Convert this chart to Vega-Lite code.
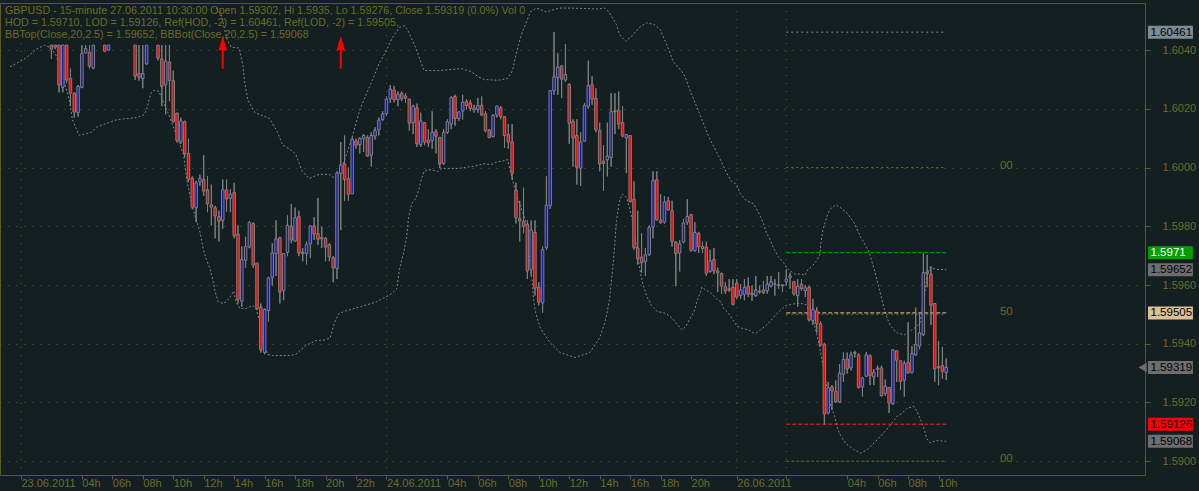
{
  "$schema": "https://vega.github.io/schema/vega-lite/v6.json",
  "autosize": "none",
  "width": 1145,
  "height": 472,
  "padding": {"left": 0, "top": 3, "right": 54, "bottom": 16},
  "background": "#131f20",
  "config": {
    "view": {"stroke": "#5b5a1f", "strokeWidth": 1},
    "font": "Liberation Sans"
  },
  "title": {
    "text": "GBPUSD - 15-minute 27.06.2011 10:30:00 Open 1.59302, Hi 1.5935, Lo 1.59276, Close 1.59319 (0.0%) Vol 0",
    "subtitle": [
      "HOD = 1.59710, LOD = 1.59126, Ref(HOD, -2) = 1.60461, Ref(LOD, -2) = 1.59505,",
      "BBTop(Close,20,2.5) = 1.59652, BBBot(Close,20,2.5) = 1.59068"
    ],
    "anchor": "start",
    "frame": "group",
    "orient": "top",
    "offset": -38,
    "dx": 5,
    "font": "Liberation Sans",
    "fontSize": 10.7,
    "fontWeight": "normal",
    "color": "#6d6b26",
    "subtitleFont": "Liberation Sans",
    "subtitleFontSize": 10.7,
    "subtitleColor": "#6d6b26",
    "subtitlePadding": 1.5,
    "subtitleLineHeight": 11.7
  },
  "datasets": {
    "days": [{"t": 0}, {"t": 96}, {"t": 188}, {"t": 201}],
    "candles": [
      {"t":8,"o":1.60417,"h":1.60417,"l":1.6037,"c":1.60403},
      {"t":9,"o":1.60417,"h":1.60417,"l":1.60403,"c":1.6041},
      {"t":10,"o":1.60417,"h":1.60417,"l":1.60256,"c":1.60281},
      {"t":11,"o":1.60273,"h":1.60417,"l":1.60256,"c":1.60417},
      {"t":12,"o":1.60417,"h":1.60417,"l":1.60287,"c":1.60298},
      {"t":13,"o":1.60303,"h":1.60337,"l":1.60209,"c":1.60253},
      {"t":14,"o":1.60253,"h":1.60256,"l":1.6017,"c":1.60189},
      {"t":15,"o":1.60187,"h":1.60281,"l":1.60173,"c":1.60276},
      {"t":16,"o":1.60273,"h":1.60417,"l":1.6027,"c":1.60389},
      {"t":17,"o":1.6039,"h":1.60417,"l":1.60389,"c":1.60405},
      {"t":18,"o":1.60392,"h":1.60417,"l":1.60337,"c":1.60345},
      {"t":19,"o":1.60339,"h":1.60417,"l":1.60335,"c":1.60417},
      {"t":22,"o":1.60417,"h":1.60417,"l":1.60394,"c":1.60396},
      {"t":23,"o":1.604,"h":1.60417,"l":1.60398,"c":1.60417},
      {"t":30,"o":1.60417,"h":1.60417,"l":1.60298,"c":1.60312},
      {"t":31,"o":1.6032,"h":1.60417,"l":1.60296,"c":1.60307},
      {"t":32,"o":1.60303,"h":1.60417,"l":1.6027,"c":1.6032},
      {"t":33,"o":1.60353,"h":1.60417,"l":1.6035,"c":1.60417},
      {"t":36,"o":1.60417,"h":1.60417,"l":1.60365,"c":1.60373},
      {"t":37,"o":1.6037,"h":1.60417,"l":1.60209,"c":1.60276},
      {"t":38,"o":1.60281,"h":1.60417,"l":1.60181,"c":1.60362},
      {"t":39,"o":1.60359,"h":1.60417,"l":1.60226,"c":1.60296},
      {"t":40,"o":1.60296,"h":1.6033,"l":1.60153,"c":1.60157},
      {"t":41,"o":1.60185,"h":1.60187,"l":1.60085,"c":1.60092},
      {"t":42,"o":1.60089,"h":1.6017,"l":1.6008,"c":1.60159},
      {"t":43,"o":1.60156,"h":1.6016,"l":1.60035,"c":1.60048},
      {"t":44,"o":1.60048,"h":1.60098,"l":1.5995,"c":1.59959},
      {"t":45,"o":1.59964,"h":1.5997,"l":1.59859,"c":1.59865},
      {"t":46,"o":1.59863,"h":1.59955,"l":1.59814,"c":1.59948},
      {"t":47,"o":1.59951,"h":1.59976,"l":1.59937,"c":1.59963},
      {"t":48,"o":1.59959,"h":1.60042,"l":1.59904,"c":1.5992},
      {"t":49,"o":1.59924,"h":1.5997,"l":1.59848,"c":1.59876},
      {"t":50,"o":1.59873,"h":1.59942,"l":1.59803,"c":1.59865},
      {"t":51,"o":1.59863,"h":1.5987,"l":1.59759,"c":1.59835},
      {"t":52,"o":1.59833,"h":1.59853,"l":1.59748,"c":1.59817},
      {"t":53,"o":1.5982,"h":1.59959,"l":1.59792,"c":1.59924},
      {"t":54,"o":1.59924,"h":1.59959,"l":1.5985,"c":1.59893},
      {"t":55,"o":1.59895,"h":1.59926,"l":1.59848,"c":1.59909},
      {"t":56,"o":1.59915,"h":1.59948,"l":1.59759,"c":1.59768},
      {"t":57,"o":1.59773,"h":1.59803,"l":1.59537,"c":1.59551},
      {"t":58,"o":1.59545,"h":1.59731,"l":1.59526,"c":1.59687},
      {"t":59,"o":1.59684,"h":1.59764,"l":1.59659,"c":1.59731},
      {"t":60,"o":1.59729,"h":1.59817,"l":1.59725,"c":1.59813},
      {"t":61,"o":1.59809,"h":1.59813,"l":1.59659,"c":1.59668},
      {"t":62,"o":1.59674,"h":1.59676,"l":1.59515,"c":1.5952},
      {"t":63,"o":1.59524,"h":1.59537,"l":1.5937,"c":1.59379},
      {"t":64,"o":1.5937,"h":1.5952,"l":1.59364,"c":1.59517},
      {"t":65,"o":1.59513,"h":1.59628,"l":1.59476,"c":1.59624},
      {"t":66,"o":1.59626,"h":1.59742,"l":1.59598,"c":1.59709},
      {"t":67,"o":1.59707,"h":1.5982,"l":1.59631,"c":1.59757},
      {"t":68,"o":1.59761,"h":1.59764,"l":1.59537,"c":1.59576},
      {"t":69,"o":1.59581,"h":1.59709,"l":1.59548,"c":1.59707},
      {"t":70,"o":1.59711,"h":1.59837,"l":1.59698,"c":1.59803},
      {"t":71,"o":1.598,"h":1.59876,"l":1.59742,"c":1.59753},
      {"t":72,"o":1.5975,"h":1.59864,"l":1.59747,"c":1.59829},
      {"t":73,"o":1.59833,"h":1.59853,"l":1.59698,"c":1.59709},
      {"t":74,"o":1.59712,"h":1.59726,"l":1.59681,"c":1.59707},
      {"t":75,"o":1.59707,"h":1.59748,"l":1.5967,"c":1.59739},
      {"t":76,"o":1.5974,"h":1.59803,"l":1.59692,"c":1.59801},
      {"t":77,"o":1.598,"h":1.59831,"l":1.59753,"c":1.59774},
      {"t":78,"o":1.59775,"h":1.59896,"l":1.59737,"c":1.59756},
      {"t":79,"o":1.59761,"h":1.59798,"l":1.59726,"c":1.59757},
      {"t":80,"o":1.59759,"h":1.59764,"l":1.59681,"c":1.59729},
      {"t":81,"o":1.59737,"h":1.59742,"l":1.59681,"c":1.59695},
      {"t":82,"o":1.59693,"h":1.59698,"l":1.59609,"c":1.59658},
      {"t":83,"o":1.59656,"h":1.59987,"l":1.5962,"c":1.59981},
      {"t":84,"o":1.5998,"h":1.60087,"l":1.59787,"c":1.60009},
      {"t":85,"o":1.60012,"h":1.60109,"l":1.59887,"c":1.59959},
      {"t":86,"o":1.59962,"h":1.6,"l":1.59887,"c":1.59909},
      {"t":87,"o":1.59911,"h":1.60103,"l":1.59909,"c":1.60096},
      {"t":88,"o":1.6009,"h":1.60098,"l":1.60064,"c":1.60076},
      {"t":89,"o":1.60078,"h":1.60103,"l":1.60048,"c":1.60099},
      {"t":90,"o":1.60098,"h":1.60114,"l":1.60053,"c":1.60109},
      {"t":91,"o":1.60103,"h":1.60109,"l":1.60037,"c":1.60039},
      {"t":92,"o":1.60042,"h":1.6012,"l":1.60003,"c":1.60109},
      {"t":93,"o":1.60107,"h":1.60137,"l":1.60095,"c":1.60126},
      {"t":94,"o":1.60129,"h":1.6017,"l":1.60109,"c":1.60162},
      {"t":95,"o":1.60164,"h":1.60192,"l":1.60158,"c":1.60183},
      {"t":96,"o":1.60184,"h":1.60242,"l":1.60175,"c":1.60233},
      {"t":97,"o":1.60234,"h":1.60281,"l":1.6022,"c":1.60267},
      {"t":98,"o":1.60264,"h":1.60278,"l":1.60222,"c":1.60231},
      {"t":99,"o":1.60231,"h":1.60259,"l":1.60209,"c":1.6025},
      {"t":100,"o":1.60253,"h":1.60259,"l":1.60226,"c":1.60234},
      {"t":101,"o":1.60244,"h":1.60253,"l":1.6022,"c":1.60236},
      {"t":102,"o":1.60233,"h":1.60233,"l":1.60126,"c":1.60151},
      {"t":103,"o":1.60153,"h":1.60214,"l":1.60114,"c":1.60209},
      {"t":104,"o":1.60203,"h":1.60218,"l":1.6007,"c":1.60081},
      {"t":105,"o":1.60078,"h":1.60187,"l":1.6007,"c":1.60159},
      {"t":106,"o":1.60153,"h":1.60153,"l":1.60076,"c":1.60087},
      {"t":107,"o":1.60093,"h":1.60131,"l":1.6007,"c":1.60084},
      {"t":108,"o":1.60092,"h":1.60192,"l":1.60064,"c":1.6012},
      {"t":109,"o":1.60122,"h":1.60131,"l":1.60048,"c":1.60107},
      {"t":110,"o":1.60103,"h":1.60103,"l":1.59998,"c":1.60012},
      {"t":111,"o":1.60014,"h":1.60131,"l":1.60009,"c":1.6012},
      {"t":112,"o":1.6012,"h":1.60164,"l":1.60114,"c":1.60156},
      {"t":113,"o":1.60148,"h":1.60242,"l":1.60131,"c":1.60239},
      {"t":114,"o":1.60242,"h":1.60248,"l":1.60142,"c":1.60167},
      {"t":115,"o":1.60167,"h":1.60192,"l":1.60159,"c":1.60189},
      {"t":116,"o":1.60192,"h":1.60248,"l":1.60164,"c":1.60222},
      {"t":117,"o":1.60225,"h":1.60233,"l":1.60198,"c":1.60211},
      {"t":118,"o":1.6022,"h":1.60231,"l":1.60192,"c":1.60201},
      {"t":119,"o":1.60196,"h":1.60214,"l":1.60187,"c":1.60203},
      {"t":120,"o":1.60198,"h":1.60237,"l":1.60187,"c":1.60211},
      {"t":121,"o":1.60212,"h":1.60242,"l":1.60176,"c":1.60179},
      {"t":122,"o":1.60183,"h":1.60192,"l":1.6012,"c":1.60125},
      {"t":123,"o":1.60128,"h":1.60131,"l":1.601,"c":1.60102},
      {"t":124,"o":1.60105,"h":1.60181,"l":1.60103,"c":1.60178},
      {"t":125,"o":1.60179,"h":1.60211,"l":1.6017,"c":1.60209},
      {"t":126,"o":1.60203,"h":1.60209,"l":1.60164,"c":1.60173},
      {"t":127,"o":1.60173,"h":1.60175,"l":1.60067,"c":1.60109},
      {"t":128,"o":1.60112,"h":1.60148,"l":1.60064,"c":1.60087},
      {"t":129,"o":1.60087,"h":1.60148,"l":1.59959,"c":1.59981},
      {"t":130,"o":1.59923,"h":1.59948,"l":1.59809,"c":1.59829},
      {"t":131,"o":1.59826,"h":1.59887,"l":1.59748,"c":1.59818},
      {"t":132,"o":1.59817,"h":1.59931,"l":1.59776,"c":1.598},
      {"t":133,"o":1.59807,"h":1.5982,"l":1.5962,"c":1.59648},
      {"t":134,"o":1.59653,"h":1.5982,"l":1.59631,"c":1.59787},
      {"t":135,"o":1.59779,"h":1.5982,"l":1.59564,"c":1.59589},
      {"t":136,"o":1.59592,"h":1.59609,"l":1.59531,"c":1.59542},
      {"t":137,"o":1.59539,"h":1.59731,"l":1.59505,"c":1.5972},
      {"t":138,"o":1.59727,"h":1.5997,"l":1.59719,"c":1.59872},
      {"t":139,"o":1.5987,"h":1.60264,"l":1.59859,"c":1.60262},
      {"t":140,"o":1.60262,"h":1.60461,"l":1.60248,"c":1.60309},
      {"t":141,"o":1.60306,"h":1.60389,"l":1.60248,"c":1.60342},
      {"t":142,"o":1.60346,"h":1.60348,"l":1.60237,"c":1.60301},
      {"t":143,"o":1.60298,"h":1.6042,"l":1.60292,"c":1.60317},
      {"t":144,"o":1.60283,"h":1.60287,"l":1.60081,"c":1.60151},
      {"t":145,"o":1.60157,"h":1.60164,"l":1.60003,"c":1.60101},
      {"t":146,"o":1.60109,"h":1.60164,"l":1.59942,"c":1.60001},
      {"t":147,"o":1.59998,"h":1.6012,"l":1.59937,"c":1.60087},
      {"t":148,"o":1.6009,"h":1.6022,"l":1.60087,"c":1.60212},
      {"t":149,"o":1.60209,"h":1.60364,"l":1.602,"c":1.60279},
      {"t":150,"o":1.60282,"h":1.60311,"l":1.60214,"c":1.60233},
      {"t":151,"o":1.60236,"h":1.6027,"l":1.6012,"c":1.60129},
      {"t":152,"o":1.60126,"h":1.60153,"l":1.59987,"c":1.60012},
      {"t":153,"o":1.60022,"h":1.60076,"l":1.5992,"c":1.60014},
      {"t":154,"o":1.60026,"h":1.60153,"l":1.5997,"c":1.60039},
      {"t":155,"o":1.60034,"h":1.60253,"l":1.60003,"c":1.6019},
      {"t":156,"o":1.60193,"h":1.60253,"l":1.60114,"c":1.6019},
      {"t":157,"o":1.60194,"h":1.60259,"l":1.60131,"c":1.60148},
      {"t":158,"o":1.60153,"h":1.60209,"l":1.60103,"c":1.60107},
      {"t":159,"o":1.60101,"h":1.60114,"l":1.59981,"c":1.60112},
      {"t":160,"o":1.60109,"h":1.60109,"l":1.59881,"c":1.59884},
      {"t":161,"o":1.59892,"h":1.59953,"l":1.5972,"c":1.59728},
      {"t":162,"o":1.59726,"h":1.59853,"l":1.5967,"c":1.59689},
      {"t":163,"o":1.59695,"h":1.59776,"l":1.59642,"c":1.59676},
      {"t":164,"o":1.59679,"h":1.59726,"l":1.59631,"c":1.59703},
      {"t":165,"o":1.59703,"h":1.59803,"l":1.597,"c":1.59796},
      {"t":166,"o":1.59798,"h":1.59987,"l":1.59759,"c":1.59956},
      {"t":167,"o":1.59959,"h":1.59987,"l":1.5982,"c":1.59822},
      {"t":168,"o":1.5982,"h":1.59909,"l":1.59809,"c":1.59812},
      {"t":169,"o":1.59814,"h":1.59903,"l":1.59809,"c":1.59883},
      {"t":170,"o":1.59887,"h":1.599,"l":1.59853,"c":1.59856},
      {"t":171,"o":1.59853,"h":1.59887,"l":1.59731,"c":1.59748},
      {"t":172,"o":1.59746,"h":1.5975,"l":1.59596,"c":1.59707},
      {"t":173,"o":1.59709,"h":1.59753,"l":1.59646,"c":1.5974},
      {"t":174,"o":1.59746,"h":1.59825,"l":1.59742,"c":1.59811},
      {"t":175,"o":1.59814,"h":1.59892,"l":1.59805,"c":1.59833},
      {"t":176,"o":1.5984,"h":1.59842,"l":1.59714,"c":1.59718},
      {"t":177,"o":1.59717,"h":1.59814,"l":1.59714,"c":1.59779},
      {"t":178,"o":1.59776,"h":1.59781,"l":1.59709,"c":1.59731},
      {"t":179,"o":1.59731,"h":1.59748,"l":1.59709,"c":1.59724},
      {"t":180,"o":1.59729,"h":1.59748,"l":1.59631,"c":1.5964},
      {"t":181,"o":1.59646,"h":1.5972,"l":1.59642,"c":1.59683},
      {"t":182,"o":1.59687,"h":1.59726,"l":1.59637,"c":1.59648},
      {"t":183,"o":1.59648,"h":1.59659,"l":1.59576,"c":1.59642},
      {"t":184,"o":1.59639,"h":1.59642,"l":1.5957,"c":1.59596},
      {"t":185,"o":1.59594,"h":1.59609,"l":1.5957,"c":1.59579},
      {"t":186,"o":1.59587,"h":1.5962,"l":1.59576,"c":1.59583},
      {"t":187,"o":1.59592,"h":1.5962,"l":1.59531,"c":1.59534},
      {"t":188,"o":1.59606,"h":1.5962,"l":1.59553,"c":1.59559},
      {"t":189,"o":1.59564,"h":1.59603,"l":1.59553,"c":1.59583},
      {"t":190,"o":1.59568,"h":1.5962,"l":1.59548,"c":1.59592},
      {"t":191,"o":1.59596,"h":1.59626,"l":1.59559,"c":1.59569},
      {"t":192,"o":1.59572,"h":1.59598,"l":1.59546,"c":1.59567},
      {"t":193,"o":1.59564,"h":1.59631,"l":1.59559,"c":1.59583},
      {"t":194,"o":1.59579,"h":1.59598,"l":1.5957,"c":1.59576},
      {"t":195,"o":1.59583,"h":1.59614,"l":1.5957,"c":1.59573},
      {"t":196,"o":1.5958,"h":1.59631,"l":1.5957,"c":1.59603},
      {"t":197,"o":1.59596,"h":1.59631,"l":1.59592,"c":1.59611},
      {"t":198,"o":1.59603,"h":1.5962,"l":1.59564,"c":1.59604},
      {"t":199,"o":1.59601,"h":1.59644,"l":1.59587,"c":1.59598},
      {"t":200,"o":1.596,"h":1.59603,"l":1.59576,"c":1.59597},
      {"t":201,"o":1.59611,"h":1.59653,"l":1.59598,"c":1.5962},
      {"t":202,"o":1.59625,"h":1.59642,"l":1.59587,"c":1.59631},
      {"t":203,"o":1.59611,"h":1.59614,"l":1.59564,"c":1.5957},
      {"t":204,"o":1.59564,"h":1.5962,"l":1.59526,"c":1.59596},
      {"t":205,"o":1.59603,"h":1.5962,"l":1.59581,"c":1.59587},
      {"t":206,"o":1.59581,"h":1.596,"l":1.59559,"c":1.5959},
      {"t":207,"o":1.59592,"h":1.59598,"l":1.59476,"c":1.59481},
      {"t":208,"o":1.59479,"h":1.59553,"l":1.59464,"c":1.59517},
      {"t":209,"o":1.59512,"h":1.59525,"l":1.59437,"c":1.59468},
      {"t":210,"o":1.59468,"h":1.59476,"l":1.59392,"c":1.59395},
      {"t":211,"o":1.59398,"h":1.59403,"l":1.59126,"c":1.59161},
      {"t":212,"o":1.59164,"h":1.5927,"l":1.5916,"c":1.5925},
      {"t":213,"o":1.59253,"h":1.59259,"l":1.59175,"c":1.59239},
      {"t":214,"o":1.59237,"h":1.59275,"l":1.59198,"c":1.59203},
      {"t":215,"o":1.59201,"h":1.59331,"l":1.59198,"c":1.593},
      {"t":216,"o":1.59296,"h":1.5937,"l":1.5927,"c":1.59346},
      {"t":217,"o":1.59348,"h":1.5937,"l":1.59298,"c":1.59314},
      {"t":218,"o":1.59318,"h":1.59373,"l":1.59309,"c":1.59362},
      {"t":219,"o":1.59367,"h":1.59376,"l":1.59353,"c":1.5937},
      {"t":220,"o":1.59362,"h":1.59367,"l":1.59248,"c":1.59251},
      {"t":221,"o":1.59253,"h":1.59287,"l":1.5922,"c":1.59283},
      {"t":222,"o":1.59289,"h":1.59372,"l":1.59289,"c":1.59362},
      {"t":223,"o":1.59359,"h":1.59364,"l":1.59259,"c":1.59292},
      {"t":224,"o":1.59287,"h":1.59314,"l":1.59259,"c":1.59303},
      {"t":225,"o":1.59317,"h":1.59326,"l":1.59287,"c":1.59313},
      {"t":226,"o":1.59318,"h":1.59326,"l":1.5922,"c":1.59223},
      {"t":227,"o":1.59231,"h":1.59278,"l":1.59222,"c":1.59256},
      {"t":228,"o":1.59251,"h":1.59251,"l":1.59164,"c":1.59198},
      {"t":229,"o":1.59196,"h":1.59381,"l":1.59192,"c":1.59379},
      {"t":230,"o":1.59376,"h":1.59376,"l":1.5927,"c":1.59344},
      {"t":231,"o":1.59342,"h":1.59342,"l":1.59242,"c":1.59272},
      {"t":232,"o":1.59276,"h":1.59342,"l":1.5922,"c":1.59333},
      {"t":233,"o":1.59337,"h":1.59473,"l":1.59298,"c":1.59301},
      {"t":234,"o":1.59303,"h":1.59392,"l":1.59298,"c":1.59367},
      {"t":235,"o":1.59362,"h":1.59523,"l":1.5936,"c":1.59398},
      {"t":236,"o":1.59392,"h":1.59506,"l":1.59381,"c":1.59437},
      {"t":237,"o":1.59431,"h":1.5971,"l":1.59426,"c":1.59642},
      {"t":238,"o":1.59644,"h":1.59703,"l":1.59592,"c":1.59639},
      {"t":239,"o":1.59637,"h":1.59664,"l":1.59464,"c":1.59531},
      {"t":240,"o":1.59537,"h":1.59537,"l":1.5927,"c":1.59314},
      {"t":241,"o":1.59322,"h":1.59409,"l":1.59259,"c":1.59318},
      {"t":242,"o":1.59326,"h":1.59389,"l":1.59281,"c":1.59306},
      {"t":243,"o":1.59302,"h":1.5935,"l":1.59276,"c":1.59319}
    ],
    "bb": [
      {"b":"top","t":51.3,"v":1.60543},{"b":"top","t":52.6,"v":1.6052},{"b":"top","t":54.1,"v":1.60437},{"b":"top","t":55.2,"v":1.6041},{"b":"top","t":57.3,"v":1.60407},{"b":"top","t":58.3,"v":1.60347},{"b":"top","t":58.8,"v":1.60287},{"b":"top","t":59.6,"v":1.6023},{"b":"top","t":61.4,"v":1.60187},{"b":"top","t":63.5,"v":1.60177},{"b":"top","t":65.3,"v":1.60167},{"b":"top","t":67.4,"v":1.6012},{"b":"top","t":68.7,"v":1.60077},{"b":"top","t":70.5,"v":1.60063},{"b":"top","t":72.1,"v":1.60047},{"b":"top","t":73.9,"v":1.59987},{"b":"top","t":75.7,"v":1.59963},{"b":"top","t":78.3,"v":1.59977},{"b":"top","t":80.9,"v":1.59977},{"b":"top","t":82.5,"v":1.59963},{"b":"top","t":84.3,"v":1.60003},{"b":"top","t":85.6,"v":1.60047},{"b":"top","t":87.2,"v":1.60113},{"b":"top","t":89.0,"v":1.60197},{"b":"top","t":90.8,"v":1.60253},{"b":"top","t":92.7,"v":1.6031},{"b":"top","t":94.0,"v":1.60353},{"b":"top","t":95.5,"v":1.60387},{"b":"top","t":97.6,"v":1.60443},{"b":"top","t":99.4,"v":1.60477},{"b":"top","t":100.7,"v":1.60483},{"b":"top","t":101.5,"v":1.6047},{"b":"top","t":103.6,"v":1.6041},{"b":"top","t":105.2,"v":1.60353},{"b":"top","t":105.9,"v":1.6033},{"b":"top","t":109.6,"v":1.6033},{"b":"top","t":112.2,"v":1.60333},{"b":"top","t":115.6,"v":1.60337},{"b":"top","t":118.2,"v":1.60327},{"b":"top","t":120.0,"v":1.6031},{"b":"top","t":121.6,"v":1.603},{"b":"top","t":125.2,"v":1.60297},{"b":"top","t":127.8,"v":1.60303},{"b":"top","t":129.1,"v":1.6033},{"b":"top","t":129.9,"v":1.60377},{"b":"top","t":130.7,"v":1.6042},{"b":"top","t":131.7,"v":1.60463},{"b":"top","t":132.5,"v":1.60487},{"b":"top","t":133.8,"v":1.6053},{"b":"top","t":135.4,"v":1.60543},{"b":"top","t":138.0,"v":1.6053},{"b":"top","t":141.3,"v":1.60543},{"b":"top","t":144.5,"v":1.60543},{"b":"top","t":151.5,"v":1.6054},{"b":"top","t":153.3,"v":1.60543},{"b":"top","t":154.4,"v":1.6053},{"b":"top","t":156.4,"v":1.60487},{"b":"top","t":157.2,"v":1.60453},{"b":"top","t":158.8,"v":1.6043},{"b":"top","t":160.4,"v":1.60447},{"b":"top","t":162.4,"v":1.60477},{"b":"top","t":164.3,"v":1.60493},{"b":"top","t":166.3,"v":1.60487},{"b":"top","t":167.9,"v":1.6047},{"b":"top","t":169.2,"v":1.6043},{"b":"top","t":170.3,"v":1.60397},{"b":"top","t":171.3,"v":1.6036},{"b":"top","t":173.4,"v":1.6033},{"b":"top","t":174.4,"v":1.6031},{"b":"top","t":175.7,"v":1.60263},{"b":"top","t":178.1,"v":1.60187},{"b":"top","t":180.7,"v":1.60103},{"b":"top","t":183.3,"v":1.60037},{"b":"top","t":185.4,"v":1.5998},{"b":"top","t":186.6,"v":1.59953},{"b":"top","t":187.9,"v":1.59943},{"b":"top","t":189.0,"v":1.5991},{"b":"top","t":190.5,"v":1.59887},{"b":"top","t":192.4,"v":1.59877},{"b":"top","t":193.7,"v":1.59847},{"b":"top","t":195.0,"v":1.5981},{"b":"top","t":195.8,"v":1.59777},{"b":"top","t":196.8,"v":1.59753},{"b":"top","t":197.6,"v":1.59727},{"b":"top","t":198.9,"v":1.59697},{"b":"top","t":200.2,"v":1.59677},{"b":"top","t":201.5,"v":1.59653},{"b":"top","t":203.3,"v":1.59637},{"b":"top","t":204.9,"v":1.59637},{"b":"top","t":205.9,"v":1.59633},{"b":"top","t":206.7,"v":1.59653},{"b":"top","t":207.5,"v":1.5966},{"b":"top","t":208.8,"v":1.5968},{"b":"top","t":209.8,"v":1.59703},{"b":"top","t":210.1,"v":1.59743},{"b":"top","t":210.6,"v":1.59787},{"b":"top","t":211.9,"v":1.59843},{"b":"top","t":212.7,"v":1.5986},{"b":"top","t":214.0,"v":1.59873},{"b":"top","t":215.3,"v":1.59863},{"b":"top","t":217.1,"v":1.59843},{"b":"top","t":218.9,"v":1.5981},{"b":"top","t":220.5,"v":1.59763},{"b":"top","t":221.5,"v":1.59743},{"b":"top","t":222.8,"v":1.5971},{"b":"top","t":224.1,"v":1.59653},{"b":"top","t":225.4,"v":1.59587},{"b":"top","t":226.7,"v":1.5952},{"b":"top","t":227.5,"v":1.59487},{"b":"top","t":228.3,"v":1.59463},{"b":"top","t":229.3,"v":1.59447},{"b":"top","t":230.1,"v":1.59437},{"b":"top","t":232.0,"v":1.5943},{"b":"top","t":232.7,"v":1.59437},{"b":"top","t":234.0,"v":1.59447},{"b":"top","t":235.3,"v":1.5946},{"b":"top","t":236.1,"v":1.5947},{"b":"top","t":237.2,"v":1.59553},{"b":"top","t":237.9,"v":1.59627},{"b":"top","t":238.7,"v":1.5966},{"b":"top","t":240.5,"v":1.59653},{"b":"top","t":243,"v":1.59652},
      {"b":"bot","t":-2.9,"v":1.60343},{"b":"bot","t":1.0,"v":1.6037},{"b":"bot","t":4.1,"v":1.60403},{"b":"bot","t":6.2,"v":1.60417},{"b":"bot","t":8.0,"v":1.60407},{"b":"bot","t":9.3,"v":1.6038},{"b":"bot","t":10.6,"v":1.60327},{"b":"bot","t":12.0,"v":1.60263},{"b":"bot","t":12.7,"v":1.6023},{"b":"bot","t":13.5,"v":1.60163},{"b":"bot","t":14.6,"v":1.6013},{"b":"bot","t":15.3,"v":1.6011},{"b":"bot","t":18.5,"v":1.6012},{"b":"bot","t":19.8,"v":1.60137},{"b":"bot","t":21.8,"v":1.60147},{"b":"bot","t":25.2,"v":1.60163},{"b":"bot","t":30.4,"v":1.6017},{"b":"bot","t":32.3,"v":1.6018},{"b":"bot","t":33.0,"v":1.60197},{"b":"bot","t":34.1,"v":1.60253},{"b":"bot","t":34.9,"v":1.60263},{"b":"bot","t":36.2,"v":1.6026},{"b":"bot","t":38.8,"v":1.6018},{"b":"bot","t":40.6,"v":1.6012},{"b":"bot","t":42.7,"v":1.60043},{"b":"bot","t":43.5,"v":1.59963},{"b":"bot","t":44.5,"v":1.59897},{"b":"bot","t":45.3,"v":1.59853},{"b":"bot","t":46.1,"v":1.5982},{"b":"bot","t":47.1,"v":1.59777},{"b":"bot","t":47.9,"v":1.5972},{"b":"bot","t":48.7,"v":1.59687},{"b":"bot","t":49.7,"v":1.59653},{"b":"bot","t":50.5,"v":1.5961},{"b":"bot","t":51.0,"v":1.59577},{"b":"bot","t":51.8,"v":1.59543},{"b":"bot","t":53.1,"v":1.59537},{"b":"bot","t":53.9,"v":1.59543},{"b":"bot","t":55.2,"v":1.59563},{"b":"bot","t":55.9,"v":1.5958},{"b":"bot","t":56.5,"v":1.59543},{"b":"bot","t":57.5,"v":1.5952},{"b":"bot","t":59.1,"v":1.5952},{"b":"bot","t":60.9,"v":1.5953},{"b":"bot","t":61.7,"v":1.5952},{"b":"bot","t":62.7,"v":1.59477},{"b":"bot","t":63.5,"v":1.5941},{"b":"bot","t":64.8,"v":1.59363},{"b":"bot","t":66.1,"v":1.5936},{"b":"bot","t":70.5,"v":1.5936},{"b":"bot","t":72.1,"v":1.59363},{"b":"bot","t":74.7,"v":1.59393},{"b":"bot","t":77.3,"v":1.5941},{"b":"bot","t":79.9,"v":1.59413},{"b":"bot","t":81.2,"v":1.5942},{"b":"bot","t":82.5,"v":1.59477},{"b":"bot","t":83.5,"v":1.59503},{"b":"bot","t":85.6,"v":1.59513},{"b":"bot","t":89.5,"v":1.59527},{"b":"bot","t":93.4,"v":1.59543},{"b":"bot","t":97.3,"v":1.5957},{"b":"bot","t":98.7,"v":1.59587},{"b":"bot","t":99.4,"v":1.59653},{"b":"bot","t":100.5,"v":1.5971},{"b":"bot","t":101.3,"v":1.59763},{"b":"bot","t":101.8,"v":1.5983},{"b":"bot","t":102.6,"v":1.59877},{"b":"bot","t":103.8,"v":1.59897},{"b":"bot","t":104.6,"v":1.5993},{"b":"bot","t":105.2,"v":1.59963},{"b":"bot","t":105.9,"v":1.59987},{"b":"bot","t":107.0,"v":1.59993},{"b":"bot","t":109.6,"v":1.59987},{"b":"bot","t":110.4,"v":1.59997},{"b":"bot","t":114.8,"v":1.59997},{"b":"bot","t":118.2,"v":1.60003},{"b":"bot","t":120.0,"v":1.60007},{"b":"bot","t":121.6,"v":1.60013},{"b":"bot","t":123.4,"v":1.6001},{"b":"bot","t":125.2,"v":1.6002},{"b":"bot","t":126.8,"v":1.60023},{"b":"bot","t":127.8,"v":1.60027},{"b":"bot","t":129.4,"v":1.59943},{"b":"bot","t":130.4,"v":1.59897},{"b":"bot","t":132.5,"v":1.5982},{"b":"bot","t":133.0,"v":1.59777},{"b":"bot","t":133.3,"v":1.5971},{"b":"bot","t":134.3,"v":1.5961},{"b":"bot","t":134.6,"v":1.59553},{"b":"bot","t":135.1,"v":1.5951},{"b":"bot","t":136.4,"v":1.59453},{"b":"bot","t":139.0,"v":1.59403},{"b":"bot","t":141.6,"v":1.5937},{"b":"bot","t":145.5,"v":1.59353},{"b":"bot","t":149.4,"v":1.5937},{"b":"bot","t":152.0,"v":1.5942},{"b":"bot","t":153.3,"v":1.5947},{"b":"bot","t":153.8,"v":1.59497},{"b":"bot","t":154.6,"v":1.59553},{"b":"bot","t":155.4,"v":1.59653},{"b":"bot","t":155.9,"v":1.5973},{"b":"bot","t":156.4,"v":1.5982},{"b":"bot","t":157.2,"v":1.59887},{"b":"bot","t":158.0,"v":1.5991},{"b":"bot","t":159.1,"v":1.59897},{"b":"bot","t":159.8,"v":1.59863},{"b":"bot","t":160.6,"v":1.5982},{"b":"bot","t":161.7,"v":1.5973},{"b":"bot","t":162.4,"v":1.59663},{"b":"bot","t":163.2,"v":1.5961},{"b":"bot","t":164.3,"v":1.59563},{"b":"bot","t":165.6,"v":1.5953},{"b":"bot","t":167.1,"v":1.5951},{"b":"bot","t":169.5,"v":1.59503},{"b":"bot","t":171.0,"v":1.59487},{"b":"bot","t":172.1,"v":1.5947},{"b":"bot","t":173.6,"v":1.59447},{"b":"bot","t":174.7,"v":1.5946},{"b":"bot","t":175.5,"v":1.5948},{"b":"bot","t":176.8,"v":1.5951},{"b":"bot","t":177.5,"v":1.59543},{"b":"bot","t":178.6,"v":1.5958},{"b":"bot","t":178.8,"v":1.59593},{"b":"bot","t":179.4,"v":1.59587},{"b":"bot","t":180.7,"v":1.59577},{"b":"bot","t":181.4,"v":1.5957},{"b":"bot","t":182.7,"v":1.59553},{"b":"bot","t":183.8,"v":1.59543},{"b":"bot","t":184.6,"v":1.5952},{"b":"bot","t":185.4,"v":1.5951},{"b":"bot","t":186.4,"v":1.59493},{"b":"bot","t":187.2,"v":1.59477},{"b":"bot","t":188.0,"v":1.5946},{"b":"bot","t":189.3,"v":1.59453},{"b":"bot","t":191.1,"v":1.59447},{"b":"bot","t":192.4,"v":1.59437},{"b":"bot","t":193.2,"v":1.59437},{"b":"bot","t":194.2,"v":1.59447},{"b":"bot","t":195.8,"v":1.59463},{"b":"bot","t":196.8,"v":1.59477},{"b":"bot","t":198.1,"v":1.59497},{"b":"bot","t":199.4,"v":1.59513},{"b":"bot","t":200.9,"v":1.5953},{"b":"bot","t":203.6,"v":1.59537},{"b":"bot","t":204.9,"v":1.59537},{"b":"bot","t":206.2,"v":1.59533},{"b":"bot","t":208.0,"v":1.59487},{"b":"bot","t":209.8,"v":1.59387},{"b":"bot","t":211.4,"v":1.5927},{"b":"bot","t":212.7,"v":1.59187},{"b":"bot","t":213.7,"v":1.59153},{"b":"bot","t":214.5,"v":1.5911},{"b":"bot","t":215.3,"v":1.59087},{"b":"bot","t":216.6,"v":1.5906},{"b":"bot","t":218.7,"v":1.5904},{"b":"bot","t":220.5,"v":1.59027},{"b":"bot","t":222.3,"v":1.5904},{"b":"bot","t":224.9,"v":1.59073},{"b":"bot","t":227.5,"v":1.5911},{"b":"bot","t":228.8,"v":1.5913},{"b":"bot","t":230.1,"v":1.59153},{"b":"bot","t":231.4,"v":1.59163},{"b":"bot","t":232.7,"v":1.5918},{"b":"bot","t":234.5,"v":1.59187},{"b":"bot","t":235.3,"v":1.5917},{"b":"bot","t":236.1,"v":1.59147},{"b":"bot","t":237.2,"v":1.5911},{"b":"bot","t":237.9,"v":1.59077},{"b":"bot","t":238.7,"v":1.59063},{"b":"bot","t":240.5,"v":1.5907},{"b":"bot","t":243,"v":1.59068}
    ],
    "levels": [
      {"k":"refhod","v":1.60461,"t0":201,"t1":243},
      {"k":"r00a","v":1.6,"t0":201,"t1":243},
      {"k":"hod","v":1.5971,"t0":201,"t1":243},
      {"k":"r50","v":1.595,"t0":201,"t1":243},
      {"k":"reflod","v":1.59505,"t0":201,"t1":243},
      {"k":"lod","v":1.59126,"t0":201,"t1":243},
      {"k":"r00b","v":1.59,"t0":201,"t1":243}
    ],
    "round": [
      {"lab":"00","v":1.6},
      {"lab":"50","v":1.595},
      {"lab":"00","v":1.59}
    ],
    "signals": [{"t":53}, {"t":84}],
    "boxes": [
      {"k":"refhod","v":1.60461,"lab":"1.60461"},
      {"k":"hod","v":1.5971,"lab":"1.5971"},
      {"k":"bbtop","v":1.59652,"lab":"1.59652"},
      {"k":"reflod","v":1.59505,"lab":"1.59505"},
      {"k":"close","v":1.59319,"lab":"1.59319"},
      {"k":"lod","v":1.59126,"lab":"1.59126"},
      {"k":"bbbot","v":1.59068,"lab":"1.59068"}
    ]
  },
  "layer": [
    {
      "data": {"name": "candles"},
      "mark": {"type": "rule", "color": "#808080", "strokeWidth": 1},
      "encoding": {
        "x": {
          "field": "t",
          "type": "quantitative",
          "scale": {"domain": [-4.19, 293.9], "nice": false, "zero": false},
          "axis": {
            "title": null,
            "grid": false,
            "domain": false,
            "values": [0,16,24,32,40,48,56,64,72,80,88,96,112,120,128,136,144,152,160,168,176,188,201,217,225,233,241],
            "labelExpr": "['23.06.2011','04h','06h','08h','10h','12h','14h','16h','18h','20h','22h','24.06.2011','04h','06h','08h','10h','12h','14h','16h','18h','20h','26.06.2011','','04h','06h','08h','10h'][indexof([0,16,24,32,40,48,56,64,72,80,88,96,112,120,128,136,144,152,160,168,176,188,201,217,225,233,241], datum.value)]",
            "labelAlign": "left",
            "labelBaseline": "top",
            "labelDx": 4,
            "labelPadding": -2,
            "labelFlush": false,
            "labelOverlap": false,
            "labelColor": "#6d6b26",
            "labelFontSize": 11,
            "tickColor": "#5b5a1f",
            "tickSize": 4
          }
        },
        "y": {
          "field": "l",
          "type": "quantitative",
          "scale": {"domain": [1.5897, 1.605433], "nice": false, "zero": false},
          "axis": {
            "orient": "right",
            "title": null,
            "values": [1.59, 1.592, 1.594, 1.596, 1.598, 1.6, 1.602, 1.604],
            "format": ".4f",
            "grid": true,
            "gridColor": "#5f5e1c",
            "gridDash": [1, 7],
            "domain": false,
            "tickColor": "#5b5a1f",
            "tickSize": 5,
            "labelPadding": 12,
            "labelColor": "#6d6b26",
            "labelFontSize": 11
          }
        },
        "y2": {"field": "h"}
      }
    },
    {
      "data": {"name": "days"},
      "mark": {"type": "rule", "color": "#5f5e1c", "strokeDash": [1, 7], "strokeWidth": 1},
      "encoding": {
        "x": {"field": "t", "type": "quantitative"}
      }
    },
    {
      "data": {"name": "bb"},
      "mark": {"type": "line", "color": "#868686", "strokeDash": [2, 2], "strokeWidth": 1},
      "encoding": {
        "x": {"field": "t", "type": "quantitative"},
        "y": {"field": "v", "type": "quantitative"},
        "detail": {"field": "b"},
        "order": {"field": "t", "type": "quantitative"}
      }
    },
    {
      "data": {"name": "levels"},
      "mark": {"type": "rule"},
      "encoding": {
        "x": {"field": "t0", "type": "quantitative"},
        "x2": {"field": "t1"},
        "y": {"field": "v", "type": "quantitative"},
        "stroke": {
          "field": "k",
          "type": "nominal",
          "legend": null,
          "scale": {
            "domain": ["refhod", "r00a", "hod", "r50", "reflod", "lod", "r00b"],
            "range": ["#7b8b98", "#6d6b26", "#00b400", "#6d6b26", "#e2c69b", "#ff2424", "#6d6b26"]
          }
        },
        "strokeDash": {
          "field": "k",
          "type": "nominal",
          "legend": null,
          "scale": {
            "domain": ["refhod", "r00a", "hod", "r50", "reflod", "lod", "r00b"],
            "range": [[2, 3], [2, 3], [4, 2], [2, 3], [4, 2], [4, 2], [3, 2]]
          }
        },
        "strokeWidth": {
          "field": "k",
          "type": "nominal",
          "legend": null,
          "scale": {
            "domain": ["refhod", "r00a", "hod", "r50", "reflod", "lod", "r00b"],
            "range": [1, 1, 1, 1, 2, 1, 1]
          }
        }
      }
    },
    {
      "data": {"name": "candles"},
      "mark": {"type": "rule", "color": "#808080", "strokeWidth": 1},
      "encoding": {
        "x": {"field": "t", "type": "quantitative"},
        "y": {"field": "l", "type": "quantitative"},
        "y2": {"field": "h"}
      }
    },
    {
      "data": {"name": "candles"},
      "mark": {"type": "bar", "orient": "vertical", "width": 2.5, "stroke": "#808080", "strokeWidth": 1},
      "encoding": {
        "x": {"field": "t", "type": "quantitative"},
        "y": {"field": "o", "type": "quantitative"},
        "y2": {"field": "c"},
        "fill": {
          "condition": {"test": "datum.c >= datum.o", "value": "#1a1ab4"},
          "value": "#ff0000"
        }
      }
    },
    {
      "data": {"name": "signals"},
      "mark": {"type": "rule", "color": "#ff0000", "strokeWidth": 2},
      "encoding": {
        "x": {"field": "t", "type": "quantitative"},
        "y": {"datum": 1.60337, "type": "quantitative"},
        "y2": {"datum": 1.6041}
      }
    },
    {
      "data": {"name": "signals"},
      "mark": {"type": "point", "shape": "M0,-1L0.6,1L-0.6,1Z", "filled": true, "color": "#ff0000", "size": 196, "opacity": 1},
      "encoding": {
        "x": {"field": "t", "type": "quantitative"},
        "y": {"datum": 1.60423, "type": "quantitative"}
      }
    },
    {
      "data": {"name": "round"},
      "mark": {"type": "text", "color": "#6d6b26", "fontSize": 11.5, "align": "center", "baseline": "middle", "dy": -2},
      "encoding": {
        "x": {"datum": 258.8, "type": "quantitative"},
        "y": {"field": "v", "type": "quantitative"},
        "text": {"field": "lab"}
      }
    },
    {
      "data": {"name": "boxes"},
      "transform": [{"filter": "datum.k == 'close'"}],
      "mark": {"type": "point", "shape": "triangle-left", "filled": true, "color": "#6e6e6e", "size": 90, "opacity": 1},
      "encoding": {
        "x": {"datum": 294.6, "type": "quantitative"},
        "y": {"field": "v", "type": "quantitative"}
      }
    },
    {
      "data": {"name": "boxes"},
      "mark": {"type": "bar", "orient": "horizontal", "height": 13},
      "encoding": {
        "x": {"datum": 296, "type": "quantitative"},
        "x2": {"datum": 307.8},
        "y": {"field": "v", "type": "quantitative"},
        "fill": {
          "field": "k",
          "type": "nominal",
          "legend": null,
          "scale": {
            "domain": ["refhod", "hod", "bbtop", "reflod", "close", "lod", "bbbot"],
            "range": ["#7b8b98", "#00a000", "#6e6e6e", "#dcc096", "#6e6e6e", "#ff0000", "#6e6e6e"]
          }
        }
      }
    },
    {
      "data": {"name": "boxes"},
      "mark": {"type": "text", "align": "left", "baseline": "middle", "fontSize": 11.5, "dx": 1, "dy": 0.5},
      "encoding": {
        "x": {"datum": 296.4, "type": "quantitative"},
        "y": {"field": "v", "type": "quantitative"},
        "text": {"field": "lab"},
        "color": {
          "condition": {"test": "datum.k == 'hod'", "value": "#ffffff"},
          "value": "#000000"
        }
      }
    }
  ]
}
